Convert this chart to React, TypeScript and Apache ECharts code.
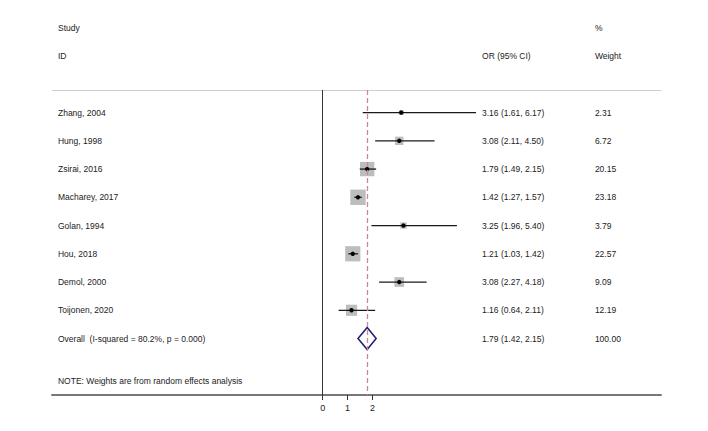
import React, { useEffect, useRef } from "react";
import * as echarts from "echarts";

const studies = ["Zhang, 2004", "Hung, 1998", "Zsirai, 2016", "Macharey, 2017", "Golan, 1994", "Hou, 2018", "Demol, 2000", "Toijonen, 2020"];
const orValues = [3.16, 3.08, 1.79, 1.42, 3.25, 1.21, 3.08, 1.16];
const lowerCI = [1.61, 2.11, 1.49, 1.27, 1.96, 1.03, 2.27, 0.64];
const upperCI = [6.17, 4.5, 2.15, 1.57, 5.4, 1.42, 4.18, 2.11];
const weights = [2.31, 6.72, 20.15, 23.18, 3.79, 22.57, 9.09, 12.19];

const overallLabel = "Overall  (I-squared = 80.2%, p = 0.000)";
const overallOR = 1.79;
const overallLower = 1.42;
const overallUpper = 2.15;
const overallWeight = 100.0;

const headerStudy = ["Study", "ID"];
const headerOR = "OR (95% CI)";
const headerWeight = ["%", "Weight"];
const noteText = "NOTE: Weights are from random effects analysis";
const xTicks = [0, 1, 2];

const X_MIN = -10.89;
const X_MAX = 13.61;
const COL_LABEL = -10.65;
const COL_OR = 6.41;
const COL_WEIGHT = 10.95;

const fmtCI = (o: number, l: number, u: number) => `${o.toFixed(2)} (${l.toFixed(2)}, ${u.toFixed(2)})`;

export default function App() {
  const ref = useRef<HTMLDivElement>(null);
  useEffect(() => {
    if (!ref.current) return;
    const chart = echarts.init(ref.current, null, { renderer: "svg" });

    const texts: [number, number, string][] = [];
    texts.push([COL_LABEL, -3, headerStudy[0]]);
    texts.push([COL_LABEL, -2, headerStudy[1]]);
    texts.push([COL_OR, -2, headerOR]);
    texts.push([COL_WEIGHT, -3, headerWeight[0]]);
    texts.push([COL_WEIGHT, -2, headerWeight[1]]);
    studies.forEach((s, i) => {
      texts.push([COL_LABEL, i, s]);
      texts.push([COL_OR, i, fmtCI(orValues[i], lowerCI[i], upperCI[i])]);
      texts.push([COL_WEIGHT, i, weights[i].toFixed(2)]);
    });
    const ovRow = studies.length;
    texts.push([COL_LABEL, ovRow, overallLabel]);
    texts.push([COL_OR, ovRow, fmtCI(overallOR, overallLower, overallUpper)]);
    texts.push([COL_WEIGHT, ovRow, overallWeight.toFixed(2)]);
    texts.push([COL_LABEL, ovRow + 1.5, noteText]);

    const studyData = studies.map((_, i) => [orValues[i], i, lowerCI[i], upperCI[i], weights[i]]);

    chart.setOption({
      animation: false,
      grid: { left: 52, right: 47, top: 90, bottom: 36 },
      xAxis: [
        {
          type: "value",
          min: X_MIN,
          max: X_MAX,
          position: "bottom",
          splitLine: { show: false },
          axisLine: { show: true, onZero: false, lineStyle: { color: "#777", width: 2 } },
          axisTick: { show: true, length: 5, customValues: xTicks, lineStyle: { color: "#333", width: 1 } },
          axisLabel: { show: true, customValues: xTicks, color: "#222", fontSize: 9, fontFamily: "Liberation Sans, Arial", margin: 8 },
        },
        {
          type: "value",
          min: X_MIN,
          max: X_MAX,
          position: "top",
          splitLine: { show: false },
          axisLine: { show: true, onZero: false, lineStyle: { color: "#cfcfcf", width: 1 } },
          axisTick: { show: false },
          axisLabel: { show: false },
        },
      ],
      yAxis: {
        type: "value",
        min: -0.8,
        max: 10,
        inverse: true,
        show: false,
        splitLine: { show: false },
      },
      series: [
        {
          type: "custom",
          name: "studies",
          data: studyData,
          clip: false,
          z: 3,
          markLine: {
            silent: true,
            symbol: "none",
            label: { show: false },
            data: [
              { xAxis: 0, lineStyle: { color: "#333", width: 1, type: "solid" } },
              { xAxis: overallOR, lineStyle: { color: "#c98a97", width: 1.3, type: [5, 3] } },
            ],
          },
          renderItem: (params: any, api: any) => {
            const or = api.value(0);
            const row = api.value(1);
            const lo = api.value(2);
            const hi = api.value(3);
            const w = api.value(4);
            const c = api.coord([or, row]);
            const l = api.coord([lo, row]);
            const h = api.coord([hi, row]);
            const side = 3.2 * Math.sqrt(w);
            return {
              type: "group",
              children: [
                { type: "rect", shape: { x: c[0] - side / 2, y: c[1] - side / 2, width: side, height: side }, style: { fill: "#bdbdbd" } },
                { type: "line", shape: { x1: l[0], y1: c[1], x2: h[0], y2: c[1] }, style: { stroke: "#1a1a1a", lineWidth: 1.3 } },
                { type: "circle", shape: { cx: c[0], cy: c[1], r: 2.2 }, style: { fill: "#000" } },
              ],
            };
          },
        },
        {
          type: "custom",
          name: "overall",
          data: [[overallOR, ovRow, overallLower, overallUpper]],
          clip: false,
          z: 4,
          renderItem: (params: any, api: any) => {
            const row = api.value(1);
            const c = api.coord([api.value(0), row]);
            const l = api.coord([api.value(2), row]);
            const h = api.coord([api.value(3), row]);
            const hh = 11;
            return {
              type: "polygon",
              shape: { points: [[l[0], c[1]], [c[0], c[1] - hh], [h[0], c[1]], [c[0], c[1] + hh]] },
              style: { fill: "none", stroke: "#1c1c78", lineWidth: 1.5 },
            };
          },
        },
        {
          type: "custom",
          name: "texts",
          data: texts.map((t, i) => [t[0], t[1], i]),
          clip: false,
          z: 5,
          renderItem: (params: any, api: any) => {
            const p = api.coord([api.value(0), api.value(1)]);
            const t = texts[api.value(2)][2];
            return {
              type: "text",
              x: p[0],
              y: p[1],
              style: {
                text: t,
                fill: "#222",
                fontSize: 8.5,
                fontFamily: "Liberation Sans, Arial",
                textAlign: "left",
                textVerticalAlign: "middle",
              },
            };
          },
        },
      ],
    });
    return () => chart.dispose();
  }, []);
  return <div ref={ref} style={{ position: "fixed", left: 0, top: 0, width: 708, height: 431, background: "#fff" }} />;
}
